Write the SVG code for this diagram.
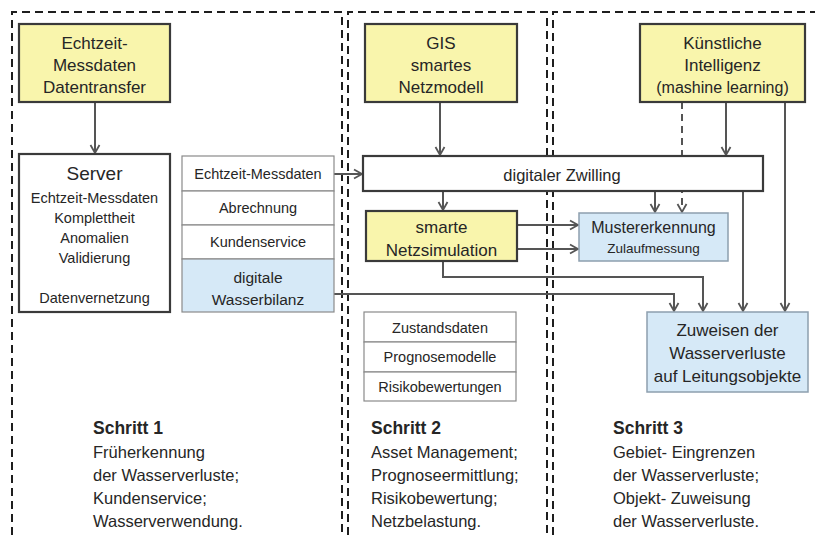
<svg xmlns="http://www.w3.org/2000/svg" width="815" height="535" viewBox="0 0 815 535">
<style>
text{font-family:"Liberation Sans",Arial,sans-serif;fill:#262626;text-anchor:middle}
.frame{fill:none;stroke:#1e1e1e;stroke-width:2;stroke-dasharray:8 5}
.y{fill:#f9f5ac;stroke:#3a3a3a;stroke-width:2.2}
.w{fill:#ffffff;stroke:#3a3a3a;stroke-width:2.2}
.b{fill:#d6e9f7;stroke:#8d9fae;stroke-width:1.5}
.t{fill:#ffffff;stroke:#8a8a8a;stroke-width:1.2}
.tb{fill:#d6e9f7;stroke:#8a8a8a;stroke-width:1.2}
.h{font-size:17px}
.s{font-size:14.5px}
.c{fill:none;stroke:#555;stroke-width:2;marker-end:url(#ah)}
.d{stroke-dasharray:7 5}
.st{font-size:16.5px;text-anchor:start}
.sb{font-size:17.5px;font-weight:bold;text-anchor:start}
</style>
<defs>
<marker id="ah" markerUnits="userSpaceOnUse" markerWidth="12" markerHeight="12" refX="10" refY="6" orient="auto">
<path d="M2,1.5 L10,6 L2,10.5" fill="none" stroke="#555" stroke-width="1.8"/>
</marker>
</defs>
<rect width="815" height="535" fill="#ffffff"/>
<g id="frames">
<path class="frame" d="M12,535 V12 H342 V535"/>
<path class="frame" d="M348,535 V12 H547 V535"/>
<path class="frame" d="M553,535 V12 H815"/>
</g>
<g id="connectors">
<path class="c" d="M95,102 V153"/>
<path class="c" d="M334,174 H362"/>
<path class="c" d="M440,102 V155"/>
<path class="c" d="M726,102 V155"/>
<path class="c d" d="M682,102 V212"/>
<path class="c" d="M785,102 V311"/>
<path class="c" d="M443,191 V210"/>
<path class="c" d="M655,191 V212"/>
<path class="c" d="M517,225 H578"/>
<path class="c" d="M517,249 H578"/>
<path class="c" d="M443,261 V277 H703 V311"/>
<path class="c" d="M334,294 H674 V311"/>
<path class="c" d="M743,191 V311"/>
</g>
<g id="n_datentransfer">
<rect class="y" x="19" y="24" width="151" height="78"/>
<text class="h" x="94.5" y="49">Echtzeit-</text>
<text class="h" x="94.5" y="71">Messdaten</text>
<text class="h" x="94.5" y="93">Datentransfer</text>
</g>
<g id="n_server">
<rect class="w" x="19" y="154" width="151" height="158"/>
<text x="94.5" y="180" font-size="19">Server</text>
<text class="s" x="94.5" y="203">Echtzeit-Messdaten</text>
<text class="s" x="94.5" y="223">Komplettheit</text>
<text class="s" x="94.5" y="243">Anomalien</text>
<text class="s" x="94.5" y="263">Validierung</text>
<text class="s" x="94.5" y="303">Datenvernetzung</text>
</g>
<g id="n_t1_messdaten">
<rect class="t" x="182" y="156" width="152" height="35"/>
<text class="s" x="258" y="179">Echtzeit-Messdaten</text>
</g>
<g id="n_t1_abrechnung">
<rect class="t" x="182" y="191" width="152" height="34"/>
<text class="s" x="258" y="213">Abrechnung</text>
</g>
<g id="n_t1_kundenservice">
<rect class="t" x="182" y="225" width="152" height="34"/>
<text class="s" x="258" y="247">Kundenservice</text>
</g>
<g id="n_t1_wasserbilanz">
<rect class="tb" x="182" y="259" width="152" height="53"/>
<text x="258" y="283" font-size="15.5">digitale</text>
<text x="258" y="305" font-size="15.5">Wasserbilanz</text>
</g>
<g id="n_gis">
<rect class="y" x="365" y="24" width="152" height="78"/>
<text class="h" x="441" y="49">GIS</text>
<text class="h" x="441" y="71">smartes</text>
<text class="h" x="441" y="93">Netzmodell</text>
</g>
<g id="n_ki">
<rect class="y" x="640" y="24" width="165" height="78"/>
<text class="h" x="722.5" y="49">Künstliche</text>
<text class="h" x="722.5" y="71">Intelligenz</text>
<text x="722.5" y="93" font-size="16">(mashine learning)</text>
</g>
<g id="n_zwilling">
<rect class="w" x="363" y="156" width="400" height="35"/>
<text x="562" y="181" font-size="16.5">digitaler Zwilling</text>
</g>
<g id="n_netzsimulation">
<rect class="y" x="366" y="211" width="151" height="50"/>
<text class="h" x="441.5" y="233">smarte</text>
<text class="h" x="441.5" y="256">Netzsimulation</text>
</g>
<g id="n_mustererkennung">
<rect class="b" x="579" y="213" width="149" height="48"/>
<text x="653.5" y="233" font-size="16">Mustererkennung</text>
<text x="653.5" y="253" font-size="13.5">Zulaufmessung</text>
</g>
<g id="n_zuweisen">
<rect class="b" x="647" y="312" width="161" height="80"/>
<text class="h" x="727.5" y="336">Zuweisen  der</text>
<text class="h" x="727.5" y="359">Wasserverluste</text>
<text class="h" x="727.5" y="382">auf Leitungsobjekte</text>
</g>
<g id="n_t2_zustandsdaten">
<rect class="t" x="364" y="312" width="152" height="30"/>
<text class="s" x="440" y="333">Zustandsdaten</text>
</g>
<g id="n_t2_prognosemodelle">
<rect class="t" x="364" y="342" width="152" height="30"/>
<text class="s" x="440" y="362">Prognosemodelle</text>
</g>
<g id="n_t2_risikobewertungen">
<rect class="t" x="364" y="372" width="152" height="29"/>
<text class="s" x="440" y="392">Risikobewertungen</text>
</g>
<g id="n_schritt1">
<text class="sb" x="93" y="434">Schritt 1</text>
<text class="st" x="93" y="458">Früherkennung</text>
<text class="st" x="93" y="481">der Wasserverluste;</text>
<text class="st" x="93" y="504">Kundenservice;</text>
<text class="st" x="93" y="527">Wasserverwendung.</text>
</g>
<g id="n_schritt2">
<text class="sb" x="371" y="434">Schritt 2</text>
<text class="st" x="371" y="458">Asset Management;</text>
<text class="st" x="371" y="481">Prognoseermittlung;</text>
<text class="st" x="371" y="504">Risikobewertung;</text>
<text class="st" x="371" y="527">Netzbelastung.</text>
</g>
<g id="n_schritt3">
<text class="sb" x="613" y="434">Schritt 3</text>
<text class="st" x="613" y="458">Gebiet- Eingrenzen</text>
<text class="st" x="613" y="481">der Wasserverluste;</text>
<text class="st" x="613" y="504">Objekt- Zuweisung</text>
<text class="st" x="613" y="527">der Wasserverluste.</text>
</g>
</svg>
